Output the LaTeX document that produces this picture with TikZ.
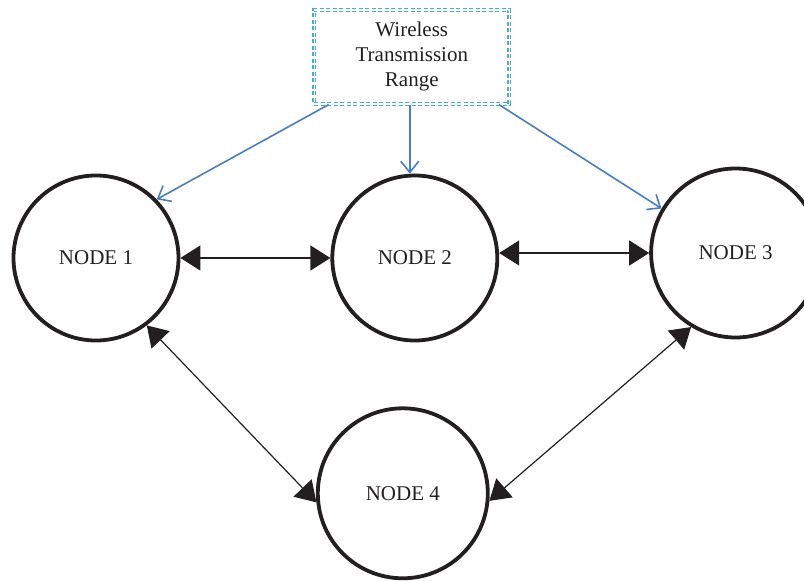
\documentclass[tikz,border=0pt]{standalone}
\usepackage{fontspec}
\setmainfont{Liberation Serif}
\usetikzlibrary{arrows.meta, positioning}
\definecolor{inkblack}{RGB}{35,31,32}
\definecolor{rangecyan}{RGB}{75,172,198}
\definecolor{linkblue}{RGB}{74,126,187}

\begin{document}
\begin{tikzpicture}[font=\fontsize{21}{25}\selectfont, text=inkblack]
		\tikzstyle{NodeCircle} = [circle, minimum size=165pt, line width=3.8pt, draw=inkblack, inner sep=0pt]
		\tikzstyle{RangeBox} = [rectangle, minimum width=195pt, minimum height=94pt, align=center, draw=rangecyan, line width=1.3pt, double=white, double distance=1.4pt, dash pattern=on 4pt off 2.5pt]
		\tikzstyle{link} = [line width=1.2pt, draw=inkblack, {Triangle[length=20pt,width=25pt]}-{Triangle[length=20pt,width=25pt]}, inkblack]
		\tikzstyle{rangearrow} = [line width=1.6pt, draw=linkblue, -{Straight Barb[length=11pt,width=18pt]}]
		
		\useasboundingbox (0pt,0pt) rectangle (804pt,-581pt);
		
		\node (node1) [NodeCircle] at (96pt,-258pt) {NODE 1};
		\node (node2) [NodeCircle, right = 150pt of node1] {NODE 2};
		\node (node3) [NodeCircle, minimum size=169pt, right = 150pt of node2, yshift=5pt] {NODE 3};
		\node (node4) [NodeCircle, minimum size=170pt, below = 64pt of node2, xshift=-12pt] {NODE 4};
		
		\node (wtr) [RangeBox, above = 69pt of node2, xshift=-3pt] {Wireless\\Transmission\\Range};
		
		\draw[rangearrow] ([xshift=15pt]wtr.south west) -- (node1.44);
		\draw[rangearrow] ([xshift=-2pt]wtr.south) -- ([xshift=-5pt]node2.north);
		\draw[rangearrow] ([xshift=-11pt]wtr.south east) -- (node3.149);
		
		\draw[link] (node1) -- (node2);
		\draw[link] (node2.east |- node3.west) -- (node3.west);
		\draw[link] (node1.-53) -- (node4.186);
		\draw[link] (node3.-121) -- (node4.-5);
		\end{tikzpicture}
\end{document}
